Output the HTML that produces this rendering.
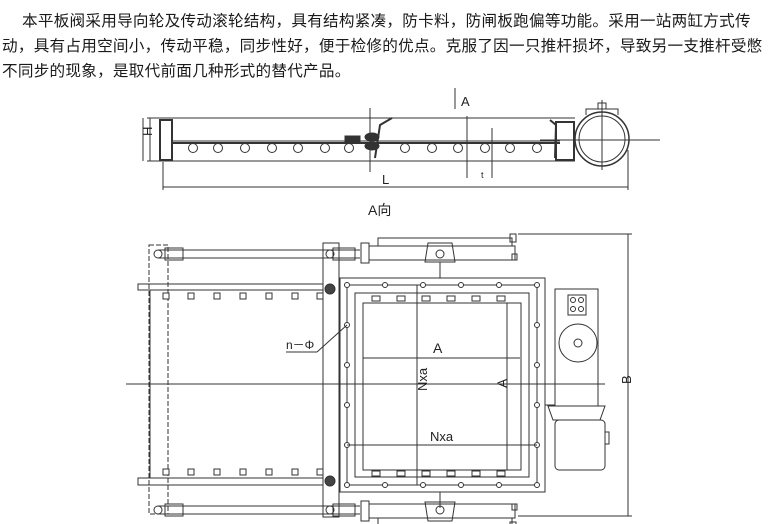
<!DOCTYPE html>
<html><head><meta charset="utf-8"><style>
html,body{margin:0;padding:0;background:#fff;width:779px;height:524px;overflow:hidden}
.t{position:absolute;left:2px;font-family:"Liberation Sans","Noto Sans CJK SC",sans-serif;font-size:15.6px;color:#1a1a1a;letter-spacing:0.25px;white-space:nowrap}
svg{position:absolute;left:0;top:0}
</style></head><body>
<div class="t" style="top:9px;left:22px">本平板阀采用导向轮及传动滚轮结构，具有结构紧凑，防卡料，防闸板跑偏等功能。采用一站两缸方式传</div>
<div class="t" style="top:34px">动，具有占用空间小，传动平稳，同步性好，便于检修的优点。克服了因一只推杆损坏，导致另一支推杆受憋</div>
<div class="t" style="top:59px">不同步的现象，是取代前面几种形式的替代产品。</div>
<svg width="779" height="524" viewBox="0 0 779 524" fill="none" stroke="#333" stroke-width="1" font-family="Liberation Sans,sans-serif">
<!-- side view -->
<line x1="147" y1="118" x2="575" y2="118"/>
<line x1="147" y1="161" x2="575" y2="161"/>
<line x1="150" y1="118" x2="150" y2="161"/>
<rect x="160" y="120" width="12" height="40" stroke-width="2"/>
<line x1="172" y1="141" x2="560" y2="141" stroke-width="1"/>
<line x1="172" y1="143" x2="560" y2="143" stroke-width="2"/>
<rect x="345" y="136" width="15" height="6" fill="#333"/>
<ellipse cx="372" cy="137" rx="7" ry="4" fill="#333"/>
<ellipse cx="372" cy="146" rx="7" ry="4" fill="#333"/>
<path d="M375 158 L380 125 L392 118" stroke-width="2"/>
<path d="M555 158 L556 125 L550 120" stroke-width="2"/>
<rect x="556" y="122" width="18" height="38" stroke-width="2"/>
<line x1="370" y1="108" x2="370" y2="172"/>
<g>
<circle cx="193" cy="148" r="4.5"/><circle cx="218" cy="148" r="4.5"/><circle cx="245" cy="148" r="4.5"/><circle cx="272" cy="148" r="4.5"/><circle cx="298" cy="148" r="4.5"/><circle cx="325" cy="148" r="4.5"/><circle cx="349" cy="148" r="4.5"/>
<circle cx="405" cy="148" r="4.5"/><circle cx="432" cy="148" r="4.5"/><circle cx="458" cy="148" r="4.5"/><circle cx="485" cy="148" r="4.5"/><circle cx="510" cy="148" r="4.5"/><circle cx="537" cy="148" r="4.5"/>
</g>
<circle cx="602" cy="139" r="27" stroke-width="1.5"/>
<circle cx="602" cy="139" r="23"/>
<path d="M586 115 L586 109 L618 109 L618 115"/>
<rect x="598" y="103" width="8" height="6"/>
<line x1="540" y1="140" x2="660" y2="140"/>
<line x1="602" y1="100" x2="602" y2="170"/>
<line x1="467" y1="116" x2="467" y2="178"/>
<line x1="492" y1="128" x2="492" y2="178"/>
<line x1="455" y1="88" x2="455" y2="109"/>
<text x="461" y="106" fill="#222" stroke="none" font-size="13">A</text>
<text x="481" y="178" fill="#222" stroke="none" font-size="9">t</text>
<line x1="143" y1="118" x2="143" y2="161"/>
<text x="150" y="146" fill="#222" stroke="none" font-size="13" transform="rotate(-90 146 140)">H</text>
<line x1="163" y1="162" x2="163" y2="190"/>
<line x1="628" y1="150" x2="628" y2="190"/>
<line x1="163" y1="187" x2="628" y2="187"/>
<text x="382" y="184" fill="#222" stroke="none" font-size="13">L</text>
<text x="368" y="215" fill="#222" stroke="none" font-size="14" font-family="Liberation Sans,Noto Sans CJK SC,sans-serif">A向</text>
<!-- plan view -->
<line x1="126" y1="384" x2="605" y2="384"/>
<rect x="138" y="284" width="185" height="6"/>
<rect x="138" y="478" width="185" height="7"/>
<line x1="150" y1="290" x2="150" y2="478"/>
<rect x="149" y="245" width="19" height="269" stroke-dasharray="5 2"/>
<rect x="323" y="243" width="16" height="274"/>
<rect x="340" y="278" width="205" height="214"/>
<rect x="347" y="285" width="190" height="200"/>
<rect x="355" y="293" width="174" height="184"/>
<rect x="363" y="303" width="158" height="167"/>
<g fill="#fff">
<rect x="163" y="293" width="6" height="6"/><rect x="188" y="293" width="6" height="6"/><rect x="214" y="293" width="6" height="6"/><rect x="240" y="293" width="6" height="6"/><rect x="266" y="293" width="6" height="6"/><rect x="292" y="293" width="6" height="6"/><rect x="317" y="293" width="6" height="6"/>
<rect x="163" y="469" width="6" height="6"/><rect x="188" y="469" width="6" height="6"/><rect x="214" y="469" width="6" height="6"/><rect x="240" y="469" width="6" height="6"/><rect x="266" y="469" width="6" height="6"/><rect x="292" y="469" width="6" height="6"/><rect x="317" y="469" width="6" height="6"/>
<rect x="372" y="296" width="8" height="5"/><rect x="397" y="296" width="8" height="5"/><rect x="422" y="296" width="8" height="5"/><rect x="447" y="296" width="8" height="5"/><rect x="472" y="296" width="8" height="5"/><rect x="497" y="296" width="8" height="5"/>
<rect x="372" y="471" width="8" height="5"/><rect x="397" y="471" width="8" height="5"/><rect x="422" y="471" width="8" height="5"/><rect x="447" y="471" width="8" height="5"/><rect x="472" y="471" width="8" height="5"/><rect x="497" y="471" width="8" height="5"/>
<circle cx="347" cy="285" r="2.5"/><circle cx="385" cy="285" r="2.5"/><circle cx="423" cy="285" r="2.5"/><circle cx="461" cy="285" r="2.5"/><circle cx="499" cy="285" r="2.5"/><circle cx="537" cy="285" r="2.5"/>
<circle cx="347" cy="485" r="2.5"/><circle cx="385" cy="485" r="2.5"/><circle cx="423" cy="485" r="2.5"/><circle cx="461" cy="485" r="2.5"/><circle cx="499" cy="485" r="2.5"/><circle cx="537" cy="485" r="2.5"/>
<circle cx="347" cy="325" r="2.5"/><circle cx="347" cy="365" r="2.5"/><circle cx="347" cy="405" r="2.5"/><circle cx="347" cy="445" r="2.5"/>
<circle cx="537" cy="325" r="2.5"/><circle cx="537" cy="365" r="2.5"/><circle cx="537" cy="405" r="2.5"/><circle cx="537" cy="445" r="2.5"/>
</g>
<circle cx="330" cy="289" r="5" fill="#444"/><circle cx="330" cy="481" r="5" fill="#444"/>
<!-- cylinders -->
<g id="cy">
<line x1="158" y1="250" x2="360" y2="250"/><line x1="158" y1="258" x2="360" y2="258"/>
<rect x="165" y="248" width="18" height="12"/><rect x="333" y="248" width="22" height="12"/>
<circle cx="158" cy="254" r="4"/><circle cx="330" cy="254" r="4"/>
<rect x="361" y="243" width="8" height="20"/><rect x="369" y="246" width="146" height="14"/>
<path d="M378 246 L378 238 L512 238 L512 246"/>
<path d="M425 262 L428 243 L452 243 L455 262 Z"/><circle cx="440" cy="254" r="4"/>
<rect x="510" y="234" width="6" height="8"/><rect x="512" y="254" width="5" height="6"/>
</g>
<use href="#cy" transform="translate(0 764) scale(1 -1)"/>
<line x1="440" y1="262" x2="440" y2="278"/><line x1="440" y1="492" x2="440" y2="508"/>
<!-- motor -->
<rect x="555" y="289" width="43" height="117"/>
<rect x="568" y="295" width="18" height="20"/>
<circle cx="573" cy="300" r="2.5"/><circle cx="581" cy="300" r="2.5"/><circle cx="573" cy="309" r="2.5"/><circle cx="581" cy="309" r="2.5"/>
<circle cx="578" cy="343" r="19"/><circle cx="578" cy="343" r="4"/>
<path d="M548 406 L605 406 L600 420 L553 420 Z"/>
<rect x="555" y="420" width="50" height="50" rx="4"/>
<rect x="605" y="432" width="4" height="12"/>
<line x1="545" y1="405" x2="555" y2="405"/>
<!-- dims -->
<line x1="518" y1="234" x2="632" y2="234"/><line x1="518" y1="516" x2="632" y2="516"/>
<line x1="628" y1="234" x2="628" y2="516"/>
<text x="627" y="388" fill="#222" stroke="none" font-size="13" transform="rotate(-90 627 384)">B</text>
<line x1="363" y1="358" x2="520" y2="358"/>
<text x="433" y="353" fill="#222" stroke="none" font-size="14">A</text>
<line x1="417" y1="285" x2="417" y2="485"/>
<text x="416" y="392" fill="#222" stroke="none" font-size="13" transform="rotate(-90 421 386)">Nxa</text>
<line x1="507" y1="303" x2="507" y2="470"/>
<text x="497" y="390" fill="#222" stroke="none" font-size="14" transform="rotate(-90 501 384)">A</text>
<line x1="347" y1="445" x2="537" y2="445"/>
<text x="430" y="441" fill="#222" stroke="none" font-size="13">Nxa</text>
<line x1="286" y1="352" x2="317" y2="352"/><line x1="317" y1="352" x2="347" y2="325"/>
<text x="286" y="349" fill="#222" stroke="none" font-size="12">n－Φ</text>
</svg>
</body></html>
